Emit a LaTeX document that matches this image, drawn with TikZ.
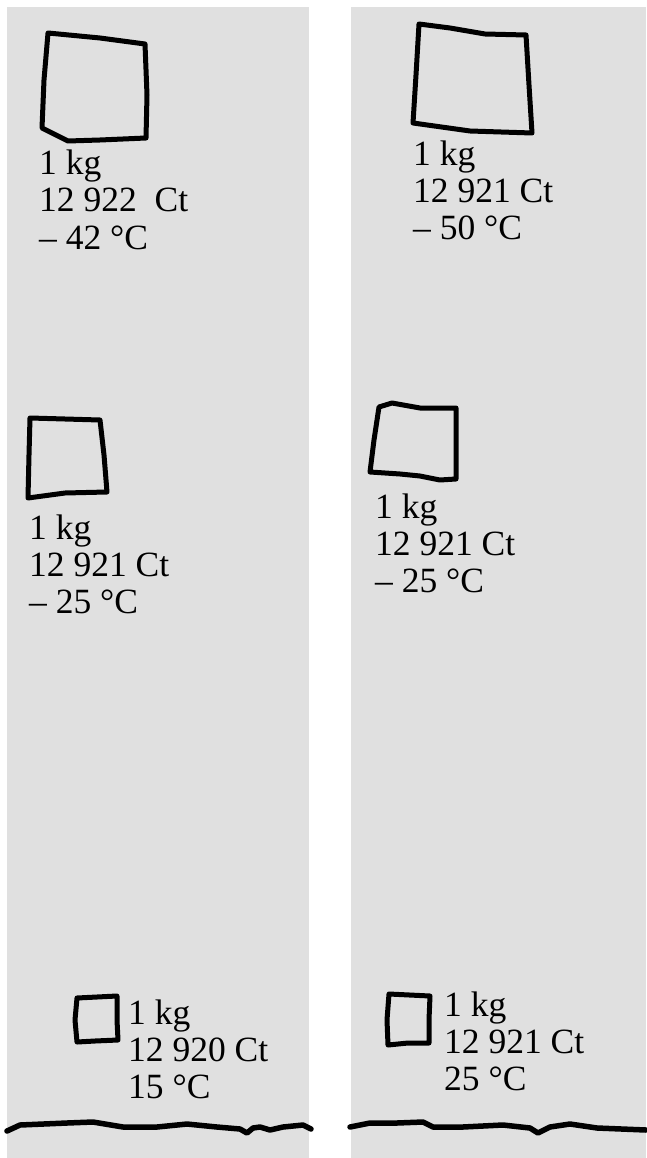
\documentclass[tikz,border=0pt]{standalone}
\usepackage{fontspec}
\setmainfont{Liberation Serif}
\usetikzlibrary{positioning}
\definecolor{panelgray}{RGB}{224,224,224}

\begin{document}
\begin{tikzpicture}[
    x=1pt,y=-1pt,
    panel/.style={fill=panelgray,draw=none},
    sketch/.style={draw=black,line width=5pt,line join=round,line cap=round},
    ground/.style={draw=black,line width=5.5pt,line join=round,line cap=round},
    label/.style={anchor=base west,inner sep=0pt,align=left,font=\fontsize{35.5}{37}\selectfont}
]
    \useasboundingbox (0,0) rectangle (646,1158);
    \fill[panel] (7,7) rectangle (309,1158);
    \fill[panel] (351,7) rectangle (646,1158);

    % left column (label anchors sit on the last baseline)
    \draw[sketch] (48,33) -- (100,38) -- (145,44) -- (147,95) -- (146,138) -- (100,140) -- (68,141) -- (42,128) -- (44,80) -- cycle;
    \node[label] (lefttop) at (39,249) {1 kg\\12 922 \ Ct\\– 42 °C};

    \draw[sketch] (30,418) -- (65,419) -- (100,420) -- (104,455) -- (107,492) -- (65,493) -- (28,498) -- (29,455) -- cycle;
    \node[label] (leftmid) at (29,613) {1 kg\\12 921 Ct\\– 25 °C};

    \draw[sketch] (77,998) -- (117,996) -- (117,1020) -- (118,1040) -- (95,1041) -- (77,1042) -- (75,1020) -- cycle;
    \node[label] (leftlow) at (128,1098) {1 kg\\12 920 Ct\\15 °C};

    % right column
    \draw[sketch] (419,24) -- (450,28) -- (485,34) -- (526,35) -- (529,85) -- (532,133) -- (470,131) -- (413,123) -- (416,75) -- cycle;
    \node[label] (righttop) at (413,240) {1 kg\\12 921 Ct\\– 50 °C};

    \draw[sketch] (379,407) -- (392,403) -- (420,408) -- (456,408) -- (456,445) -- (456,479) -- (440,480) -- (420,476) -- (400,474) -- (370,472) -- (374,440) -- cycle;
    \node[label] (rightmid) at (375,592) {1 kg\\12 921 Ct\\– 25 °C};

    \draw[sketch] (389,994) -- (430,996) -- (429,1020) -- (429,1043) -- (408,1043) -- (388,1045) -- (387,1020) -- cycle;
    \node[label] (rightlow) at (444,1090) {1 kg\\12 921 Ct\\25 °C};

    % ground lines
    \draw[ground] (7,1131) -- (20,1125) -- (67,1123) -- (93,1122) -- (123,1127) -- (157,1127) -- (187,1124) -- (217,1127) -- (240,1129) -- (247,1133) -- (253,1128) -- (260,1127) -- (270,1130) -- (283,1127) -- (303,1125) -- (311,1129);
    \draw[ground] (350,1127) -- (370,1123) -- (397,1123) -- (423,1122) -- (433,1127) -- (463,1127) -- (503,1125) -- (530,1128) -- (538,1133) -- (550,1127) -- (570,1124) -- (597,1128) -- (646,1130);
\end{tikzpicture}
\end{document}
